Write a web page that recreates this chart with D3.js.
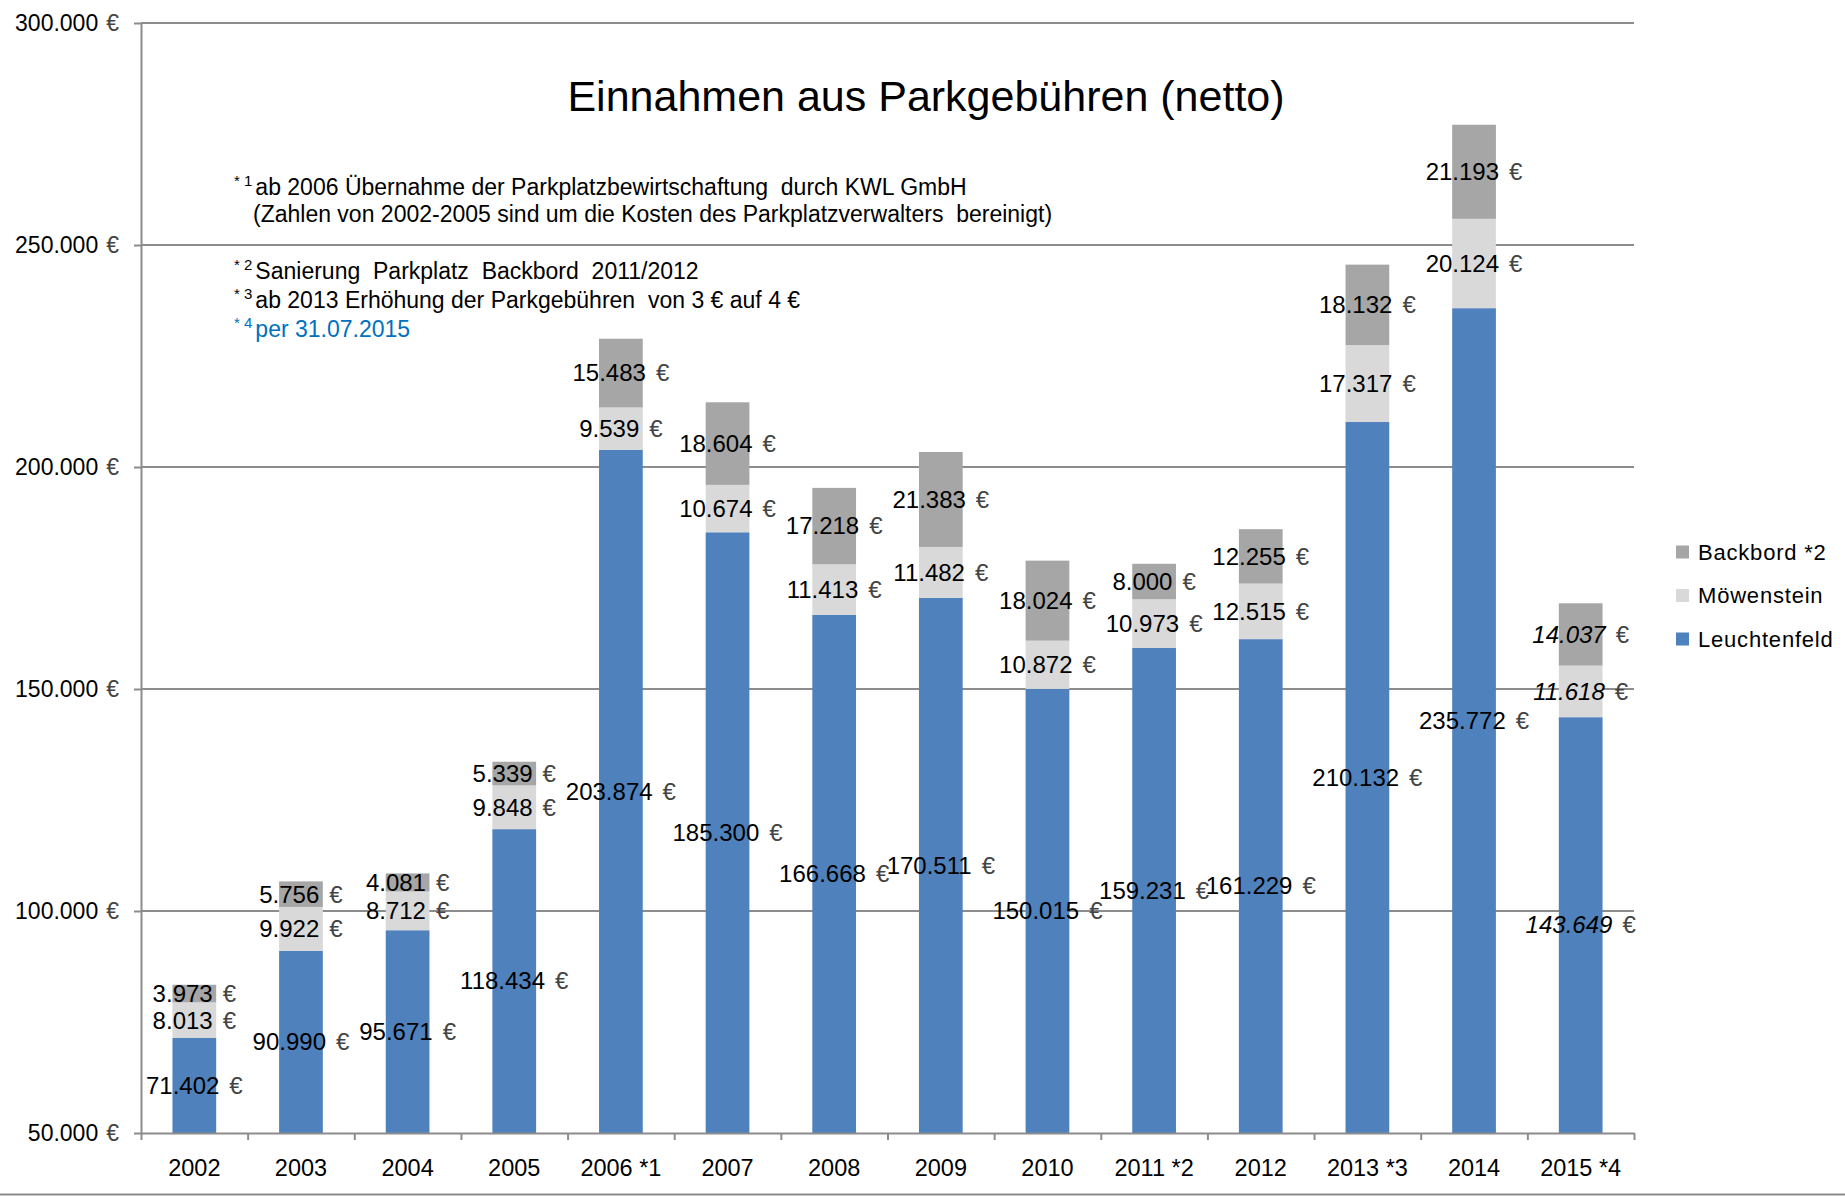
<!DOCTYPE html>
<html>
<head>
<meta charset="utf-8">
<script src="https://cdn.jsdelivr.net/npm/d3@7"></script>
<style>
  html, body { margin: 0; padding: 0; background: #fff; }
  svg { display: block; font-family: "Liberation Sans", Arial, sans-serif; }
  .eur { fill: #444; }
</style>
</head>
<body>
<svg id="chart" width="1845" height="1196"></svg>
<script>
// categories and series (netto, €)
const years = ['2002', '2003', '2004', '2005', '2006 *1', '2007', '2008', '2009', '2010',
  '2011 *2', '2012', '2013 *3', '2014', '2015 *4'];
const leuchtenfeld = [71402, 90990, 95671, 118434, 203874, 185300, 166668, 170511, 150015,
  159231, 161229, 210132, 235772, 143649];
const moewenstein = [8013, 9922, 8712, 9848, 9539, 10674, 11413, 11482, 10872,
  10973, 12515, 17317, 20124, 11618];
const backbord = [3973, 5756, 4081, 5339, 15483, 18604, 17218, 21383, 18024,
  8000, 12255, 18132, 21193, 14037];
const seriesNames = ['Leuchtenfeld', 'Möwenstein', 'Backbord *2'];
const yTicks = [50000, 100000, 150000, 200000, 250000, 300000];
const notes = [
  ['* 1', 'ab 2006 Übernahme der Parkplatzbewirtschaftung  durch KWL GmbH'],
  ['', '(Zahlen von 2002-2005 sind um die Kosten des Parkplatzverwalters  bereinigt)'],
  ['* 2', 'Sanierung  Parkplatz  Backbord  2011/2012'],
  ['* 3', 'ab 2013 Erhöhung der Parkgebühren  von 3 € auf 4 €'],
  ['* 4', 'per 31.07.2015']
];

const colors = { 'Leuchtenfeld': '#4f81bd', 'Möwenstein': '#d9d9d9', 'Backbord *2': '#a6a6a6' };
const m = { l: 141, r: 1634, t: 23, b: 1133 };
const fmt = d3.formatLocale({ decimal: ',', thousands: '.', grouping: [3], currency: ['', ''] }).format(',d');

const svg = d3.select('#chart');
const table = years.map((y, i) => ({
  year: y, 'Leuchtenfeld': leuchtenfeld[i], 'Möwenstein': moewenstein[i], 'Backbord *2': backbord[i]
}));
const stacked = d3.stack().keys(seriesNames)(table);

const x = d3.scaleBand().domain(years).range([m.l, m.r]).paddingInner(0.59).paddingOuter(0.295);
const y = d3.scaleLinear().domain([50000, 300000]).range([m.b, m.t]);
const idx = d3.scaleLinear().domain([0, years.length]).range([m.l, m.r]);

// gridlines
svg.append('g').selectAll('line').data(yTicks.slice(1)).join('line')
  .attr('x1', m.l).attr('x2', m.r).attr('y1', d => y(d)).attr('y2', d => y(d))
  .attr('stroke', '#8c8c8c').attr('stroke-width', 2);

// bars
const layer = svg.append('g').selectAll('g').data(stacked).join('g')
  .attr('fill', d => colors[d.key]);
layer.selectAll('rect').data(d => d).join('rect')
  .attr('x', d => x(d.data.year)).attr('width', x.bandwidth())
  .attr('y', d => y(d[1])).attr('height', d => y(Math.max(d[0], 50000)) - y(d[1]));

// y axis
const yAx = svg.append('g').attr('transform', `translate(${m.l},0)`)
  .call(d3.axisLeft(y).tickValues(yTicks).tickSize(7).tickSizeOuter(0).tickFormat(''));
yAx.selectAll('path,line').attr('stroke', '#8c8c8c').attr('stroke-width', 2);
const yl = svg.append('g').selectAll('text').data(yTicks).join('text')
  .attr('x', 119).attr('y', d => y(d)).attr('dy', '0.35em')
  .attr('text-anchor', 'end').attr('font-size', 23);
yl.append('tspan').text(d => fmt(d));
yl.append('tspan').attr('class', 'eur').attr('dx', 8).text('€');

// x axis: boundary ticks + labels
const xAx = svg.append('g').attr('transform', `translate(0,${m.b})`)
  .call(d3.axisBottom(idx).tickValues(d3.range(years.length + 1)).tickSize(7).tickSizeOuter(0).tickFormat(''));
xAx.selectAll('path,line').attr('stroke', '#8c8c8c').attr('stroke-width', 2);
svg.append('g').selectAll('text').data(years).join('text')
  .attr('x', d => x(d) + x.bandwidth() / 2).attr('y', 1176)
  .attr('text-anchor', 'middle').attr('font-size', 23.5).text(d => d);

// data labels
const lab = svg.append('g').selectAll('g').data(stacked).join('g')
  .selectAll('text').data(d => d).join('text')
  .attr('x', d => x(d.data.year) + x.bandwidth() / 2)
  .attr('y', d => y((Math.max(d[0], 50000) + d[1]) / 2)).attr('dy', '0.35em')
  .attr('text-anchor', 'middle').attr('font-size', 24);
lab.append('tspan').attr('font-style', d => d.data.year === '2015 *4' ? 'italic' : null)
  .text(d => fmt(d[1] - d[0]));
lab.append('tspan').attr('class', 'eur').attr('dx', 10).text('€');

// title
svg.append('text').attr('x', 926).attr('y', 111).attr('text-anchor', 'middle')
  .attr('font-size', 43).attr('fill', '#000').text('Einnahmen aus Parkgebühren (netto)');

// footnotes
const noteY = [195, 222, 279, 308, 337];
const nt = svg.append('g').selectAll('text').data(notes).join('text')
  .attr('x', (d, i) => i === 1 ? 253 : 234).attr('y', (d, i) => noteY[i])
  .attr('font-size', 23).attr('fill', (d, i) => i === 4 ? '#0070c0' : '#000')
  .attr('xml:space', 'preserve');
nt.append('tspan').attr('font-size', 15).attr('dy', -9).text(d => d[0]);
nt.append('tspan').attr('dy', d => d[0] ? 9 : 0).attr('dx', d => d[0] ? 3 : 0).text(d => d[1]);

// legend
const leg = svg.append('g').selectAll('g').data(seriesNames.slice().reverse()).join('g')
  .attr('transform', (d, i) => `translate(1676,${552 + i * 43.5})`);
leg.append('rect').attr('y', -6.5).attr('width', 13).attr('height', 13).attr('fill', d => colors[d]);
leg.append('text').attr('x', 22).attr('dy', '0.35em').attr('font-size', 22)
  .attr('letter-spacing', 0.8).text(d => d);

// bottom frame line
svg.append('line').attr('x1', 0).attr('x2', 1845).attr('y1', 1194.5).attr('y2', 1194.5)
  .attr('stroke', '#8c8c8c').attr('stroke-width', 2);
</script>
</body>
</html>
